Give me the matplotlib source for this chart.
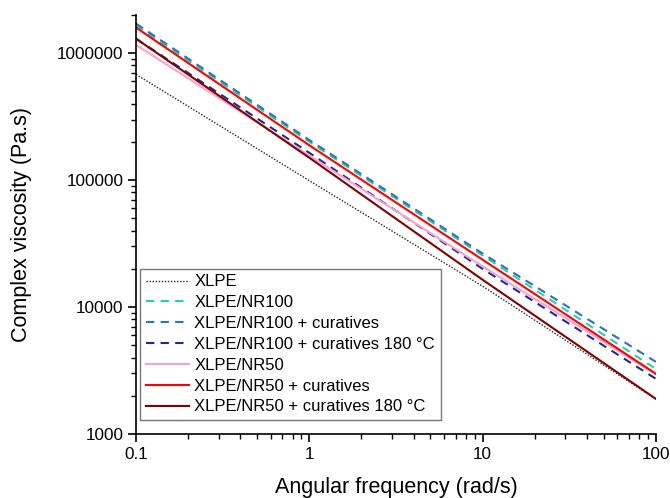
import matplotlib
matplotlib.use("Agg")
import matplotlib.pyplot as plt
from matplotlib.ticker import FixedLocator, FixedFormatter, LogLocator, NullFormatter

plt.rcParams['font.family'] = ['Liberation Sans', 'DejaVu Sans']

freq = [0.1, 1, 10, 100]
xlpe = [6.8e5, 9.9e4, 1.46e4, 1.88e3]
nr100 = [1.65e6, 2.0e5, 2.55e4, 3.25e3]
nr100_cur = [1.71e6, 2.07e5, 2.64e4, 3.7e3]
nr100_cur180 = [1.30e6, 1.64e5, 2.0e4, 2.72e3]
nr50 = [1.16e6, 1.56e5, 2.09e4, 2.95e3]
nr50_cur = [1.59e6, 1.88e5, 2.36e4, 2.98e3]
nr50_cur180 = [1.30e6, 1.50e5, 1.64e4, 1.89e3]

labels = ["XLPE", "XLPE/NR100", "XLPE/NR100 + curatives",
          "XLPE/NR100 + curatives 180 °C", "XLPE/NR50",
          "XLPE/NR50 + curatives", "XLPE/NR50 + curatives 180 °C"]
series = [xlpe, nr100, nr100_cur, nr100_cur180, nr50, nr50_cur, nr50_cur180]
colors = ["#222222", "#22d4a4", "#2f6fc4", "#1c2c8c", "#ff9fcf", "#ff0000", "#800000"]
styles = [(0, (1, 1.2)), (0, (4, 3)), (0, (4, 3)), (0, (4, 3)), "-", "-", "-"]
widths = [1.0, 1.5, 1.5, 1.5, 1.5, 1.5, 1.5]

fig = plt.figure(figsize=(6.7, 4.98), dpi=100)
ax = fig.add_axes([0.203, 0.1285, 0.776, 0.8415])

for y, lab, c, ls, lw in zip(series, labels, colors, styles, widths):
    ax.plot(freq, y, color=c, linestyle=ls, linewidth=lw, label=lab)

ax.set_xscale('log')
ax.set_yscale('log')
ax.set_xlim(0.1, 100)
ax.set_ylim(1000, 2.0e6)

xt = [0.1, 1, 10, 100]
ax.xaxis.set_major_locator(FixedLocator(xt))
ax.xaxis.set_major_formatter(FixedFormatter(["0.1", "1", "10", "100"]))
ax.xaxis.set_minor_locator(LogLocator(base=10, subs=range(2, 10)))
ax.xaxis.set_minor_formatter(NullFormatter())
yt = [1000, 10000, 100000, 1000000]
ax.yaxis.set_major_locator(FixedLocator(yt))
ax.yaxis.set_major_formatter(FixedFormatter(["1000", "10000", "100000", "1000000"]))
ax.yaxis.set_minor_locator(LogLocator(base=10, subs=range(2, 10)))
ax.yaxis.set_minor_formatter(NullFormatter())

for s in ['top', 'right']:
    ax.spines[s].set_visible(False)
for s in ['left', 'bottom']:
    ax.spines[s].set_linewidth(1.2)

ax.tick_params(which='major', direction='out', length=6, width=1.2, labelsize=12.3, pad=3)
ax.tick_params(which='minor', direction='out', length=3.5, width=1.0)

ax.set_xlabel("Angular frequency (rad/s)", fontsize=15.5, labelpad=11)
ax.set_ylabel("Complex viscosity (Pa.s)", fontsize=15.5, labelpad=18)

leg = ax.legend(loc='lower left', bbox_to_anchor=(0.008, 0.033), borderaxespad=0,
                fontsize=12, frameon=True, fancybox=False, handlelength=2.6,
                handletextpad=0.3, labelspacing=0.35, borderpad=0.35)
leg.get_frame().set_edgecolor('#555555')
leg.get_frame().set_linewidth(1.0)

fig.savefig("out.png", dpi=100)
